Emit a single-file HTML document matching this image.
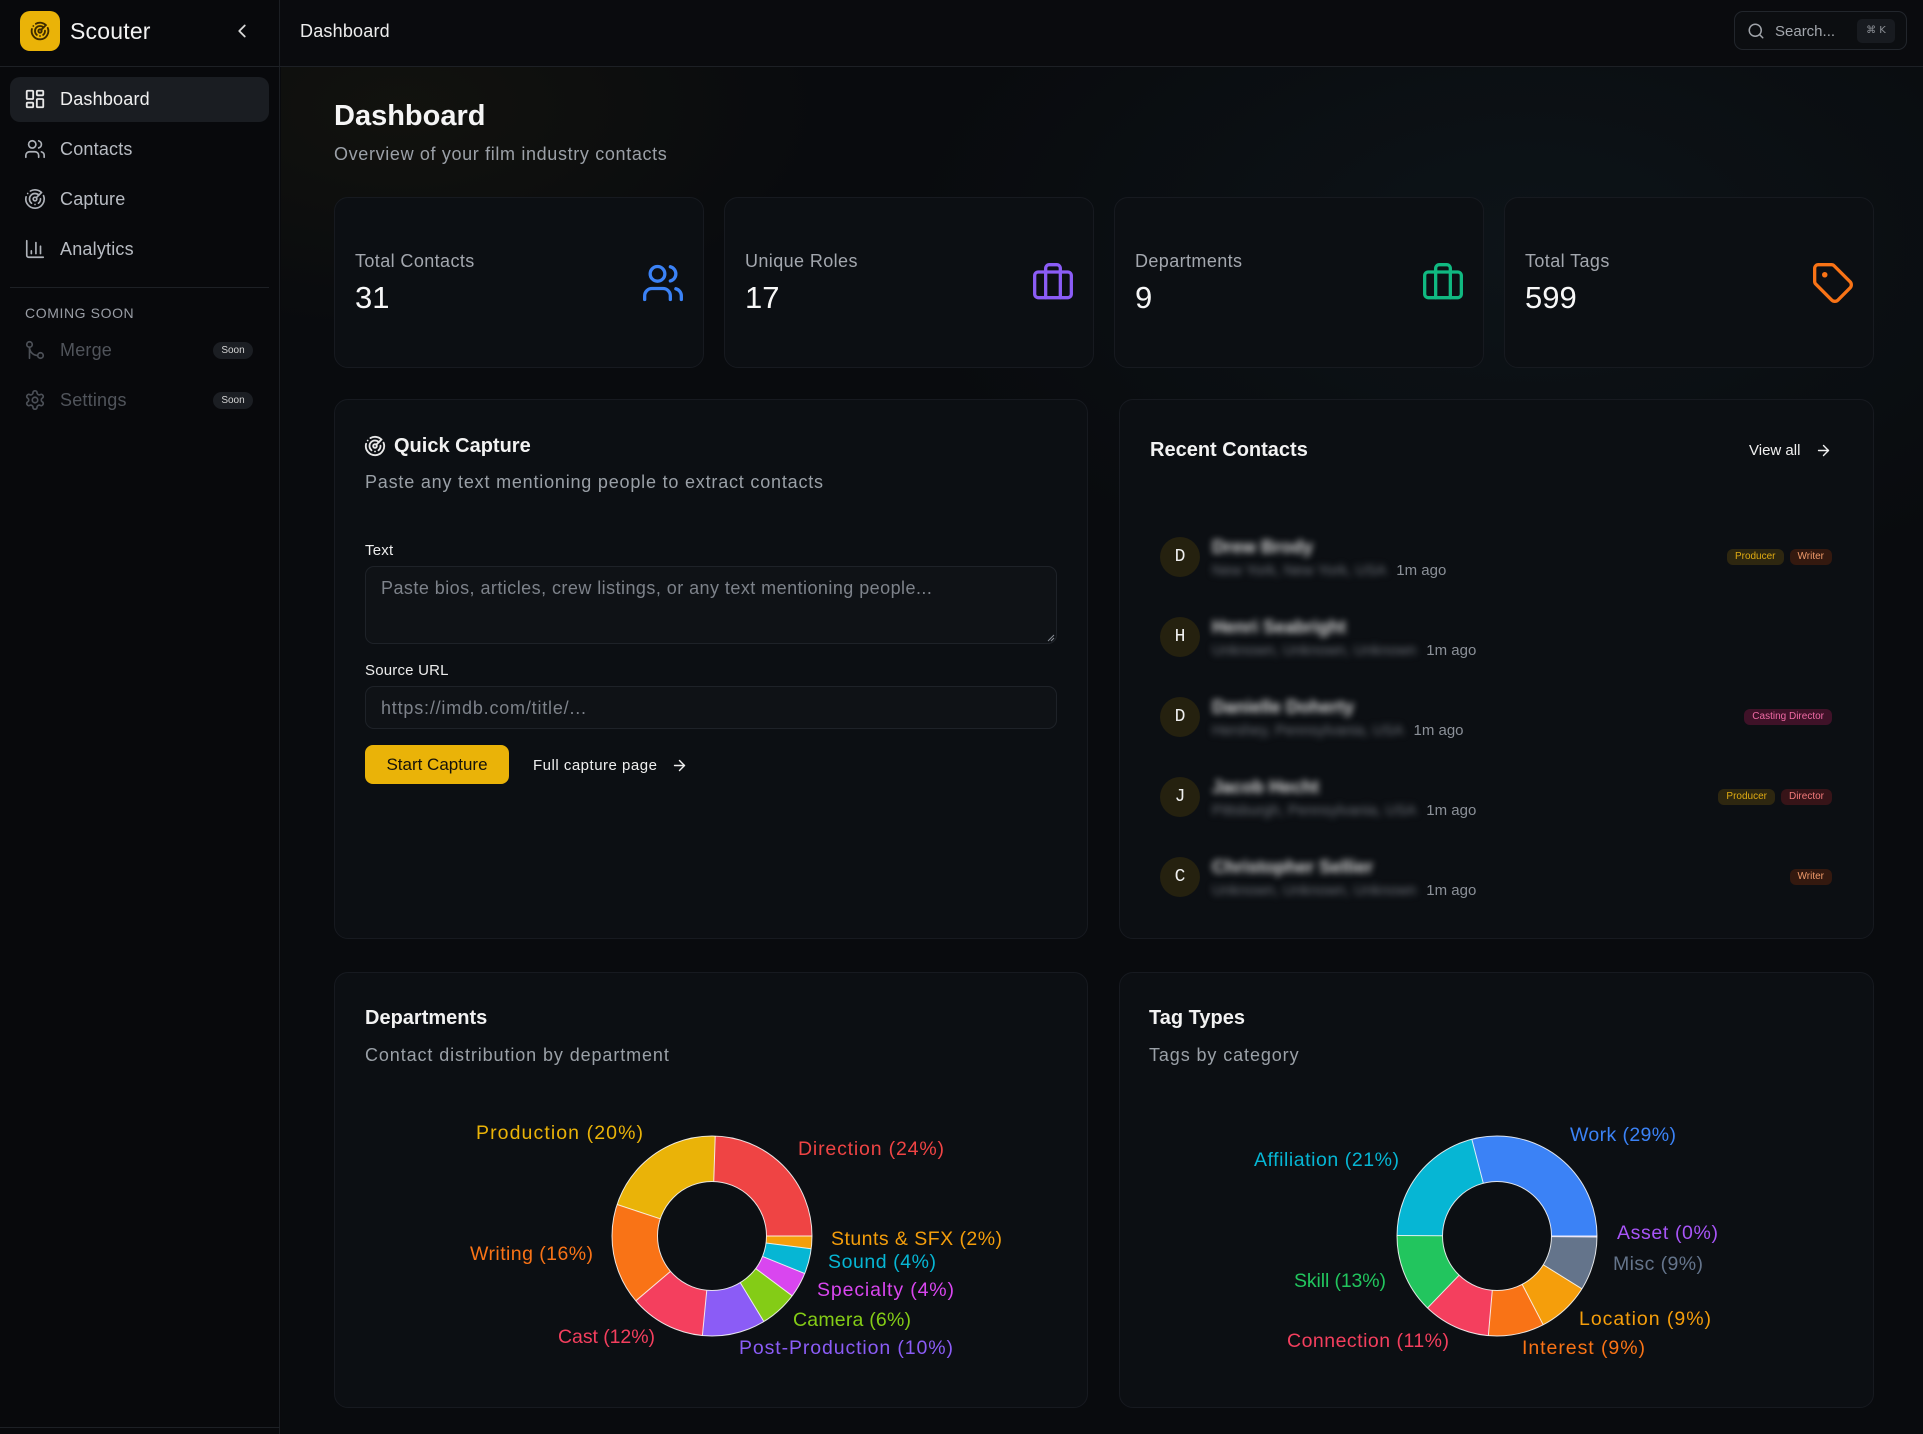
<!DOCTYPE html>
<html><head><meta charset="utf-8">
<style>
*{margin:0;padding:0;box-sizing:border-box}
html,body{width:1923px;height:1434px;overflow:hidden;background:#090a0d;font-family:"Liberation Sans","DejaVu Sans",sans-serif;color:#ececec}
.a{position:absolute}
.t{position:absolute;white-space:nowrap;line-height:1}
.card{position:absolute;background:#0c0f13;border:1px solid #171a20;border-radius:14px}
svg.i{position:absolute;fill:none;stroke-linecap:round;stroke-linejoin:round}
.soon{position:absolute;left:213px;width:40px;height:17px;border-radius:9px;background:#1b1e23;color:#d4d4d4;font-size:10px;line-height:17px;text-align:center}
.av{position:absolute;left:1160px;width:40px;height:40px;border-radius:50%;background:#25210f;color:#efefef;font-family:"Liberation Mono",monospace;font-size:18px;line-height:40px;text-align:center}
.nm{position:absolute;left:1212px;white-space:nowrap;line-height:1;font-size:18px;font-weight:bold;color:#d8d8d8;filter:blur(3.5px)}
.sub{position:absolute;left:1212px;white-space:nowrap;line-height:1;font-size:15px;display:flex}
.sub .loc{color:#6f737a;filter:blur(3.5px)}
.sub .ago{color:#8b9098;margin-left:10px}
.tags{position:absolute;right:91px;display:flex;gap:6px}
.tg{height:16px;line-height:16px;padding:0 8px;border-radius:6px;font-size:10px;white-space:nowrap}
.prod{background:#2e2710;color:#e0ab12}
.wri{background:#34190f;color:#ef9a6a}
.dir{background:#371418;color:#f27a7a}
.cast{background:#3f1228;color:#ef6aa4}
</style></head><body>

<!-- main background -->
<div class="a" style="left:281px;top:67px;width:1642px;height:1367px;background:radial-gradient(900px 520px at 1250px 180px,rgba(30,55,66,0.20),rgba(0,0,0,0) 70%),radial-gradient(600px 320px at 120px 40px,rgba(95,80,20,0.10),rgba(0,0,0,0) 70%),#090b0e"></div>
<!-- header bg -->
<div class="a" style="left:280px;top:0;width:1643px;height:66px;background:#0a0b0e"></div>
<!-- sidebar -->
<div class="a" style="left:0;top:0;width:280px;height:1434px;background:#08090c;border-right:1px solid #1b1e23"></div>
<div class="a" style="left:0;top:66px;width:1923px;height:1px;background:#1d2025"></div>
<div class="a" style="left:0;top:1427px;width:280px;height:1px;background:#1d2025"></div>

<!-- logo -->
<div class="a" style="left:20px;top:11px;width:40px;height:40px;border-radius:10px;background:#eab308"></div>
<svg class="i" style="left:30px;top:21px" width="20" height="20" viewBox="0 0 24 24" stroke="#3d2a00" stroke-width="2.2"><path d="M19.07 4.93A10 10 0 0 0 6.99 3.34"/><path d="M4 6h.01"/><path d="M2.29 9.62A10 10 0 1 0 21.31 8.35"/><path d="M16.24 7.76A6 6 0 1 0 8.23 16.67"/><path d="M12 18h.01"/><path d="M17.99 11.66A6 6 0 0 1 15.77 16.67"/><circle cx="12" cy="12" r="2"/><path d="m13.41 10.59 5.66-5.66"/></svg>
<div class="t" style="left:70px;top:20px;font-size:23px;color:#f2f2f2;letter-spacing:0.2px">Scouter</div>
<svg class="i" style="left:231px;top:20px" width="22" height="22" viewBox="0 0 24 24" stroke="#d8d8d8" stroke-width="2"><path d="m15 18-6-6 6-6"/></svg>

<!-- nav -->
<div class="a" style="left:10px;top:77px;width:259px;height:45px;border-radius:10px;background:#1a1d22"></div>
<svg class="i" style="left:24px;top:88px" width="22" height="22" viewBox="0 0 24 24" stroke="#e8e8e8" stroke-width="2"><rect width="7" height="9" x="3" y="3" rx="1"/><rect width="7" height="5" x="14" y="3" rx="1"/><rect width="7" height="9" x="14" y="12" rx="1"/><rect width="7" height="5" x="3" y="16" rx="1"/></svg>
<div class="t" style="left:60px;top:90px;font-size:18px;color:#f0f0f0;letter-spacing:0.2px">Dashboard</div>

<svg class="i" style="left:24px;top:138px" width="22" height="22" viewBox="0 0 24 24" stroke="#aeb2b9" stroke-width="1.8"><path d="M16 21v-2a4 4 0 0 0-4-4H6a4 4 0 0 0-4 4v2"/><circle cx="9" cy="7" r="4"/><path d="M22 21v-2a4 4 0 0 0-3-3.87"/><path d="M16 3.13a4 4 0 0 1 0 7.75"/></svg>
<div class="t" style="left:60px;top:140px;font-size:18px;color:#b8bcc3;letter-spacing:0.2px">Contacts</div>

<svg class="i" style="left:24px;top:188px" width="22" height="22" viewBox="0 0 24 24" stroke="#aeb2b9" stroke-width="1.8"><path d="M19.07 4.93A10 10 0 0 0 6.99 3.34"/><path d="M4 6h.01"/><path d="M2.29 9.62A10 10 0 1 0 21.31 8.35"/><path d="M16.24 7.76A6 6 0 1 0 8.23 16.67"/><path d="M12 18h.01"/><path d="M17.99 11.66A6 6 0 0 1 15.77 16.67"/><circle cx="12" cy="12" r="2"/><path d="m13.41 10.59 5.66-5.66"/></svg>
<div class="t" style="left:60px;top:190px;font-size:18px;color:#b8bcc3;letter-spacing:0.2px">Capture</div>

<svg class="i" style="left:24px;top:238px" width="22" height="22" viewBox="0 0 24 24" stroke="#aeb2b9" stroke-width="1.8"><path d="M3 3v16a2 2 0 0 0 2 2h16"/><path d="M18 17V9"/><path d="M13 17V5"/><path d="M8 17v-3"/></svg>
<div class="t" style="left:60px;top:240px;font-size:18px;color:#b8bcc3;letter-spacing:0.2px">Analytics</div>

<div class="a" style="left:10px;top:287px;width:259px;height:1px;background:#1d2025"></div>
<div class="t" style="left:25px;top:306px;font-size:14px;color:#9a9ea6;letter-spacing:0.6px">COMING SOON</div>

<svg class="i" style="left:24px;top:339px" width="22" height="22" viewBox="0 0 24 24" stroke="#4c5057" stroke-width="1.8"><circle cx="18" cy="18" r="3"/><circle cx="6" cy="6" r="3"/><path d="M6 21V9a9 9 0 0 0 9 9"/></svg>
<div class="t" style="left:60px;top:341px;font-size:18px;color:#50545b;letter-spacing:0.2px">Merge</div>
<div class="soon" style="top:342px">Soon</div>

<svg class="i" style="left:24px;top:389px" width="22" height="22" viewBox="0 0 24 24" stroke="#4c5057" stroke-width="1.8"><path d="M12.22 2h-.44a2 2 0 0 0-2 2v.18a2 2 0 0 1-1 1.73l-.43.25a2 2 0 0 1-2 0l-.15-.08a2 2 0 0 0-2.73.73l-.22.38a2 2 0 0 0 .73 2.73l.15.1a2 2 0 0 1 1 1.72v.51a2 2 0 0 1-1 1.74l-.15.09a2 2 0 0 0-.73 2.73l.22.38a2 2 0 0 0 2.73.73l.15-.08a2 2 0 0 1 2 0l.43.25a2 2 0 0 1 1 1.73V20a2 2 0 0 0 2 2h.44a2 2 0 0 0 2-2v-.18a2 2 0 0 1 1-1.73l.43-.25a2 2 0 0 1 2 0l.15.08a2 2 0 0 0 2.73-.73l.22-.39a2 2 0 0 0-.73-2.73l-.15-.08a2 2 0 0 1-1-1.74v-.5a2 2 0 0 1 1-1.74l.15-.09a2 2 0 0 0 .73-2.73l-.22-.38a2 2 0 0 0-2.73-.73l-.15.08a2 2 0 0 1-2 0l-.43-.25a2 2 0 0 1-1-1.73V4a2 2 0 0 0-2-2z"/><circle cx="12" cy="12" r="3"/></svg>
<div class="t" style="left:60px;top:391px;font-size:18px;color:#50545b;letter-spacing:0.2px">Settings</div>
<div class="soon" style="top:392px">Soon</div>

<!-- header -->
<div class="t" style="left:300px;top:22px;font-size:18px;color:#ededed;letter-spacing:0.2px">Dashboard</div>
<div class="a" style="left:1734px;top:11px;width:173px;height:39px;border:1px solid #22262c;border-radius:9px;background:#0c0e11"></div>
<svg class="i" style="left:1747px;top:22px" width="18" height="18" viewBox="0 0 24 24" stroke="#a0a4aa" stroke-width="2"><circle cx="11" cy="11" r="8"/><path d="m21 21-4.3-4.3"/></svg>
<div class="t" style="left:1775px;top:23.5px;font-size:15px;color:#a3a7ad">Search...</div>
<div class="a" style="left:1857px;top:19px;width:38px;height:24px;border-radius:5px;background:#181b20;color:#8c9096;font-size:10px;line-height:24px;text-align:center;font-family:'DejaVu Sans','Liberation Sans',sans-serif">⌘ K</div>

<!-- title -->
<div class="t" style="left:334px;top:101.5px;font-size:29px;font-weight:bold;color:#f5f5f5">Dashboard</div>
<div class="t" style="left:334px;top:145px;font-size:18px;color:#9ba0a7;letter-spacing:0.65px">Overview of your film industry contacts</div>

<!-- stat cards -->
<div class="card" style="left:334px;top:197px;width:370px;height:171px"></div>
<div class="card" style="left:724px;top:197px;width:370px;height:171px"></div>
<div class="card" style="left:1114px;top:197px;width:370px;height:171px"></div>
<div class="card" style="left:1504px;top:197px;width:370px;height:171px"></div>

<div class="t" style="left:355px;top:252px;font-size:18px;color:#a3a7ae;letter-spacing:0.4px">Total Contacts</div>
<div class="t" style="left:355px;top:281.5px;font-size:31px;color:#f7f7f7">31</div>
<svg class="i" style="left:641px;top:261px" width="44" height="44" viewBox="0 0 24 24" stroke="#3b82f6" stroke-width="1.8"><path d="M16 21v-2a4 4 0 0 0-4-4H6a4 4 0 0 0-4 4v2"/><circle cx="9" cy="7" r="4"/><path d="M22 21v-2a4 4 0 0 0-3-3.87"/><path d="M16 3.13a4 4 0 0 1 0 7.75"/></svg>

<div class="t" style="left:745px;top:252px;font-size:18px;color:#a3a7ae;letter-spacing:0.4px">Unique Roles</div>
<div class="t" style="left:745px;top:281.5px;font-size:31px;color:#f7f7f7">17</div>
<svg class="i" style="left:1031px;top:261px" width="44" height="44" viewBox="0 0 24 24" stroke="#8b5cf6" stroke-width="1.8"><path d="M16 20V4a2 2 0 0 0-2-2h-4a2 2 0 0 0-2 2v16"/><rect width="20" height="14" x="2" y="6" rx="2"/></svg>

<div class="t" style="left:1135px;top:252px;font-size:18px;color:#a3a7ae;letter-spacing:0.4px">Departments</div>
<div class="t" style="left:1135px;top:281.5px;font-size:31px;color:#f7f7f7">9</div>
<svg class="i" style="left:1421px;top:261px" width="44" height="44" viewBox="0 0 24 24" stroke="#10b981" stroke-width="1.8"><path d="M16 20V4a2 2 0 0 0-2-2h-4a2 2 0 0 0-2 2v16"/><rect width="20" height="14" x="2" y="6" rx="2"/></svg>

<div class="t" style="left:1525px;top:252px;font-size:18px;color:#a3a7ae;letter-spacing:0.4px">Total Tags</div>
<div class="t" style="left:1525px;top:281.5px;font-size:31px;color:#f7f7f7">599</div>
<svg class="i" style="left:1811px;top:261px" width="44" height="44" viewBox="0 0 24 24" stroke="#f97316" stroke-width="1.8"><path d="M12.586 2.586A2 2 0 0 0 11.172 2H4a2 2 0 0 0-2 2v7.172a2 2 0 0 0 .586 1.414l8.704 8.704a2.426 2.426 0 0 0 3.42 0l6.58-6.58a2.426 2.426 0 0 0 0-3.42z"/><circle cx="7.5" cy="7.5" r=".6" fill="#f97316"/></svg>

<!-- quick capture -->
<div class="card" style="left:334px;top:399px;width:754px;height:540px"></div>
<svg class="i" style="left:364px;top:435px" width="22" height="22" viewBox="0 0 24 24" stroke="#e8e8e8" stroke-width="2"><path d="M19.07 4.93A10 10 0 0 0 6.99 3.34"/><path d="M4 6h.01"/><path d="M2.29 9.62A10 10 0 1 0 21.31 8.35"/><path d="M16.24 7.76A6 6 0 1 0 8.23 16.67"/><path d="M12 18h.01"/><path d="M17.99 11.66A6 6 0 0 1 15.77 16.67"/><circle cx="12" cy="12" r="2"/><path d="m13.41 10.59 5.66-5.66"/></svg>
<div class="t" style="left:394px;top:436px;font-size:20px;font-weight:bold;color:#f2f2f2">Quick Capture</div>
<div class="t" style="left:365px;top:473px;font-size:18px;color:#9aa0a7;letter-spacing:0.8px">Paste any text mentioning people to extract contacts</div>
<div class="t" style="left:365px;top:542.5px;font-size:15px;color:#ececec;letter-spacing:0.2px">Text</div>
<div class="a" style="left:365px;top:566px;width:692px;height:78px;border:1px solid #1e2228;border-radius:9px;background:#0f1216"></div>
<div class="t" style="left:381px;top:579px;font-size:18px;color:#7d828a;letter-spacing:0.45px">Paste bios, articles, crew listings, or any text mentioning people...</div>
<svg class="a" style="left:1046px;top:633px" width="9" height="9" viewBox="0 0 9 9"><path d="M8 2 2 8M8 5 5 8" stroke="#8a8f96" stroke-width="1"/></svg>
<div class="t" style="left:365px;top:662.5px;font-size:15px;color:#ececec;letter-spacing:0.2px">Source URL</div>
<div class="a" style="left:365px;top:686px;width:692px;height:43px;border:1px solid #1e2228;border-radius:9px;background:#0f1216"></div>
<div class="t" style="left:381px;top:699px;font-size:18px;color:#7d828a;letter-spacing:0.8px">https://imdb.com/title/...</div>
<div class="a" style="left:365px;top:745px;width:144px;height:39px;border-radius:8px;background:#eab308;color:#15120a;font-size:17px;line-height:39px;text-align:center">Start Capture</div>
<div class="t" style="left:533px;top:757.5px;font-size:15px;color:#f0f0f0;letter-spacing:0.5px">Full capture page</div>
<svg class="i" style="left:671px;top:757px" width="17" height="17" viewBox="0 0 24 24" stroke="#f0f0f0" stroke-width="2"><path d="M5 12h14"/><path d="m12 5 7 7-7 7"/></svg>

<!-- recent contacts -->
<div class="card" style="left:1119px;top:399px;width:755px;height:540px"></div>
<div class="t" style="left:1150px;top:440px;font-size:20px;font-weight:bold;color:#f2f2f2">Recent Contacts</div>
<div class="t" style="left:1749px;top:442.5px;font-size:15px;color:#f0f0f0">View all</div>
<svg class="i" style="left:1815px;top:442px" width="17" height="17" viewBox="0 0 24 24" stroke="#f0f0f0" stroke-width="2"><path d="M5 12h14"/><path d="m12 5 7 7-7 7"/></svg>

<div class="av" style="top:537px">D</div>
<div class="nm" style="top:538px">Drew Brody</div>
<div class="sub" style="top:562.5px"><span class="loc">New York, New York, USA</span><span class="ago">1m ago</span></div>
<div class="tags" style="top:549px"><span class="tg prod">Producer</span><span class="tg wri">Writer</span></div>

<div class="av" style="top:617px">H</div>
<div class="nm" style="top:618px">Henri Seabright</div>
<div class="sub" style="top:642.5px"><span class="loc">Unknown, Unknown, Unknown</span><span class="ago">1m ago</span></div>

<div class="av" style="top:697px">D</div>
<div class="nm" style="top:698px">Danielle Doherty</div>
<div class="sub" style="top:722.5px"><span class="loc">Hershey, Pennsylvania, USA</span><span class="ago">1m ago</span></div>
<div class="tags" style="top:709px"><span class="tg cast">Casting Director</span></div>

<div class="av" style="top:777px">J</div>
<div class="nm" style="top:778px">Jacob Hecht</div>
<div class="sub" style="top:802.5px"><span class="loc">Pittsburgh, Pennsylvania, USA</span><span class="ago">1m ago</span></div>
<div class="tags" style="top:789px"><span class="tg prod">Producer</span><span class="tg dir">Director</span></div>

<div class="av" style="top:857px">C</div>
<div class="nm" style="top:858px">Christopher Sellier</div>
<div class="sub" style="top:882.5px"><span class="loc">Unknown, Unknown, Unknown</span><span class="ago">1m ago</span></div>
<div class="tags" style="top:869px"><span class="tg wri">Writer</span></div>

<!-- chart cards -->
<div class="card" style="left:334px;top:972px;width:754px;height:436px"></div>
<div class="t" style="left:365px;top:1008px;font-size:20px;font-weight:bold;color:#f2f2f2">Departments</div>
<div class="t" style="left:365px;top:1046px;font-size:18px;color:#9aa0a7;letter-spacing:0.9px">Contact distribution by department</div>

<div class="card" style="left:1119px;top:972px;width:755px;height:436px"></div>
<div class="t" style="left:1149px;top:1008px;font-size:20px;font-weight:bold;color:#f2f2f2">Tag Types</div>
<div class="t" style="left:1149px;top:1046px;font-size:18px;color:#9aa0a7;letter-spacing:0.9px">Tags by category</div>

<svg class="a" style="left:0;top:0" width="1923" height="1434" viewBox="0 0 1923 1434">
<g font-family="Liberation Sans, sans-serif" font-size="19.5">
<!-- Departments donut -->
<g transform="translate(712,1236) scale(1,-1)" fill="none" stroke-width="45.5">
<circle r="77.25" stroke="#ef4444" stroke-dasharray="118.87 485.38" stroke-dashoffset="0"/>
<circle r="77.25" stroke="#eab308" stroke-dasharray="99.06 485.38" stroke-dashoffset="-118.87"/>
<circle r="77.25" stroke="#f97316" stroke-dasharray="79.25 485.38" stroke-dashoffset="-217.93"/>
<circle r="77.25" stroke="#f43f5e" stroke-dasharray="59.43 485.38" stroke-dashoffset="-297.17"/>
<circle r="77.25" stroke="#8b5cf6" stroke-dasharray="49.53 485.38" stroke-dashoffset="-356.61"/>
<circle r="77.25" stroke="#84cc16" stroke-dasharray="29.72 485.38" stroke-dashoffset="-406.14"/>
<circle r="77.25" stroke="#d946ef" stroke-dasharray="19.81 485.38" stroke-dashoffset="-435.85"/>
<circle r="77.25" stroke="#06b6d4" stroke-dasharray="19.81 485.38" stroke-dashoffset="-455.66"/>
<circle r="77.25" stroke="#f59e0b" stroke-dasharray="9.91 485.38" stroke-dashoffset="-475.47"/>
</g>
<g fill="none" stroke="#ffffff" stroke-width="1" stroke-opacity="0.85">
<circle cx="712" cy="1236" r="100"/>
<circle cx="712" cy="1236" r="54.5"/>
<path d="M766.5 1236L812 1236M713.75 1181.53L715.21 1136.05M660.28 1218.82L617.1 1204.48M670.49 1271.32L635.83 1300.81M706.77 1290.25L702.4 1335.54M740.25 1282.61L763.83 1321.52M755.69 1268.58L792.16 1295.79M762.52 1256.45L804.69 1273.52M766.05 1242.97L811.18 1248.79"/>
</g>
<text x="476" y="1139" fill="#eab308" textLength="167" lengthAdjust="spacing">Production (20%)</text>
<text x="798" y="1155" fill="#ef4444" textLength="146" lengthAdjust="spacing">Direction (24%)</text>
<text x="831" y="1245" fill="#f59e0b" textLength="171" lengthAdjust="spacing">Stunts &amp; SFX (2%)</text>
<text x="828" y="1268" fill="#06b6d4" textLength="108" lengthAdjust="spacing">Sound (4%)</text>
<text x="817" y="1296" fill="#d946ef" textLength="137" lengthAdjust="spacing">Specialty (4%)</text>
<text x="793" y="1326" fill="#84cc16" textLength="118" lengthAdjust="spacing">Camera (6%)</text>
<text x="739" y="1354" fill="#8b5cf6" textLength="214" lengthAdjust="spacing">Post-Production (10%)</text>
<text x="558" y="1343" fill="#f43f5e" textLength="97" lengthAdjust="spacing">Cast (12%)</text>
<text x="470" y="1260" fill="#f97316" textLength="123" lengthAdjust="spacing">Writing (16%)</text>

<!-- Tag types donut -->
<g transform="translate(1497,1236) scale(1,-1)" fill="none" stroke-width="45.5">
<circle r="77.25" stroke="#3b82f6" stroke-dasharray="141.0 485.38" stroke-dashoffset="0"/>
<circle r="77.25" stroke="#06b6d4" stroke-dasharray="101.29 485.38" stroke-dashoffset="-141.0"/>
<circle r="77.25" stroke="#22c55e" stroke-dasharray="62.39 485.38" stroke-dashoffset="-242.29"/>
<circle r="77.25" stroke="#f43f5e" stroke-dasharray="52.67 485.38" stroke-dashoffset="-304.68"/>
<circle r="77.25" stroke="#f97316" stroke-dasharray="43.76 485.38" stroke-dashoffset="-357.35"/>
<circle r="77.25" stroke="#f59e0b" stroke-dasharray="41.33 485.38" stroke-dashoffset="-401.11"/>
<circle r="77.25" stroke="#64748b" stroke-dasharray="42.14 485.38" stroke-dashoffset="-442.44"/>
<circle r="77.25" stroke="#a855f7" stroke-dasharray="0.81 485.38" stroke-dashoffset="-484.57"/>
</g>
<g fill="none" stroke="#ffffff" stroke-width="1" stroke-opacity="0.85">
<circle cx="1497" cy="1236" r="100"/>
<circle cx="1497" cy="1236" r="54.5"/>
<path d="M1551.5 1236L1597 1236M1483.29 1183.25L1471.84 1139.22M1442.5 1235.72L1397 1235.48M1459.13 1275.19L1427.51 1307.91M1492.29 1290.3L1488.35 1335.63M1522.16 1284.34L1543.17 1324.7M1543.29 1264.76L1581.94 1288.77M1551.5 1236.57L1597 1237.05"/>
</g>
<text x="1570" y="1141" fill="#3b82f6" textLength="106" lengthAdjust="spacing">Work (29%)</text>
<text x="1254" y="1166" fill="#06b6d4" textLength="145" lengthAdjust="spacing">Affiliation (21%)</text>
<text x="1617" y="1239" fill="#a855f7" textLength="101" lengthAdjust="spacing">Asset (0%)</text>
<text x="1613" y="1270" fill="#64748b" textLength="90" lengthAdjust="spacing">Misc (9%)</text>
<text x="1579" y="1325" fill="#f59e0b" textLength="132" lengthAdjust="spacing">Location (9%)</text>
<text x="1522" y="1354" fill="#f97316" textLength="123" lengthAdjust="spacing">Interest (9%)</text>
<text x="1287" y="1347" fill="#f43f5e" textLength="162" lengthAdjust="spacing">Connection (11%)</text>
<text x="1294" y="1287" fill="#22c55e" textLength="92" lengthAdjust="spacing">Skill (13%)</text>
</g>
</svg>
</body></html>
